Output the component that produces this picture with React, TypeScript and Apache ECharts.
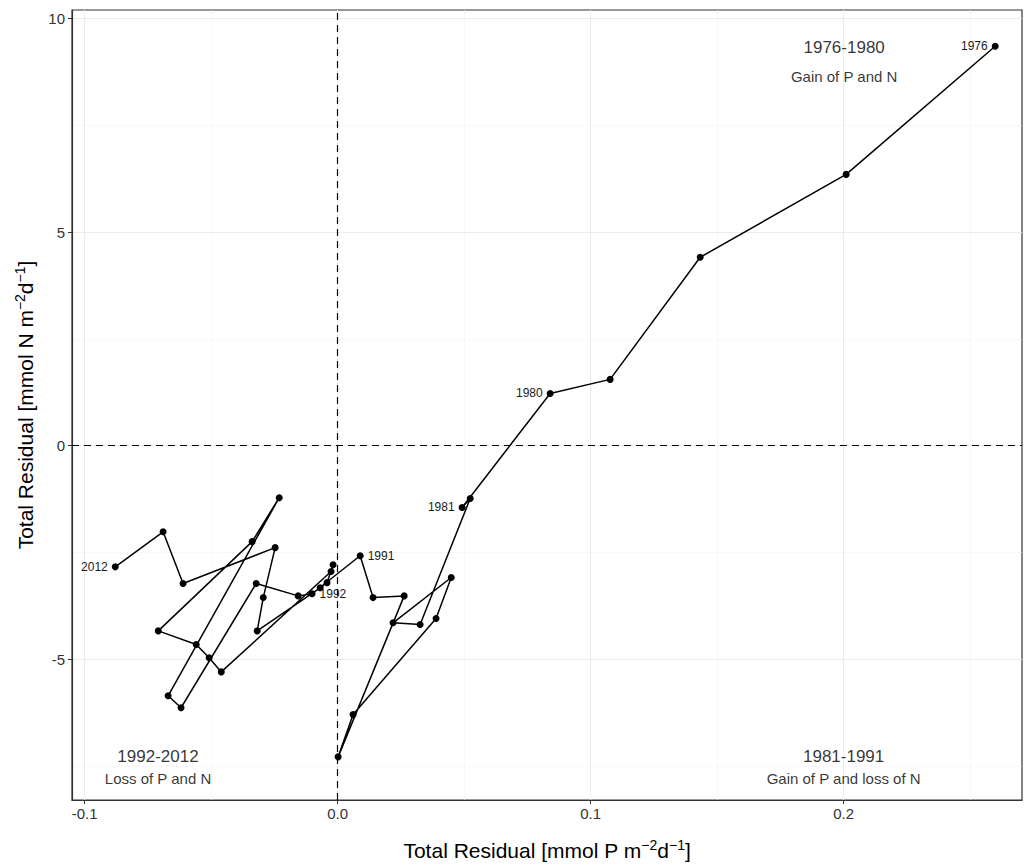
import React, { useEffect, useRef } from "react";
import * as echarts from "echarts";

const years = [
  1976, 1977, 1978, 1979, 1980, 1981, 1982, 1983, 1984, 1985, 1986, 1987, 1988, 1989, 1990, 1991,
  1992, 1993, 1994, 1995, 1996, 1997, 1998, 1999, 2000, 2001, 2002, 2003, 2004, 2005, 2006, 2007,
  2008, 2009, 2010, 2011, 2012,
];
const residualP = [
  0.2599, 0.201, 0.1433, 0.1077, 0.084, 0.0492, 0.0524, 0.0326, 0.0219, 0.0449, 0.0389, 0.0061,
  0.0002, 0.0263, 0.014, 0.0089, -0.0101, -0.0156, -0.0322, -0.0619, -0.067, -0.0231, -0.0338,
  -0.0709, -0.0559, -0.0508, -0.046, -0.0026, -0.0018, -0.0042, -0.0069, -0.0318, -0.0294,
  -0.0247, -0.0611, -0.069, -0.0879,
];
const residualN = [
  9.35, 6.35, 4.41, 1.55, 1.22, -1.45, -1.24, -4.19, -4.15, -3.09, -4.05, -6.3, -7.29, -3.52,
  -3.56, -2.58, -3.47, -3.52, -3.23, -6.14, -5.86, -1.22, -2.25, -4.34, -4.66, -4.97, -5.3,
  -2.95, -2.79, -3.21, -3.33, -4.34, -3.56, -2.39, -3.23, -2.02, -2.84,
];
const labelledYears = [1976, 1980, 1981, 1991, 1992, 2012];
const labelSides = ["left", "left", "left", "right", "right", "left"];

const xTicks = [-0.1, 0.0, 0.1, 0.2];
const xMinor = [-0.05, 0.05, 0.15, 0.25];
const yTicks = [-5, 0, 5, 10];
const yMinor = [-7.5, -2.5, 2.5, 7.5];

const annotTexts = [
  "1976-1980", "Gain of P and N",
  "1992-2012", "Loss of P and N",
  "1981-1991", "Gain of P and loss of N",
];
const annotX = [0.2002, 0.2002, -0.071, -0.071, 0.2, 0.2];
const annotY = [9.33, 8.65, -7.27, -7.79, -7.27, -7.79];
const annotSize = [17, 15, 17, 15, 17, 15];

const FONT = "'Liberation Sans', Arial, Helvetica, sans-serif";

export default function App() {
  const ref = useRef<HTMLDivElement>(null);
  useEffect(() => {
    if (!ref.current) return;
    const chart = echarts.init(ref.current, undefined, { renderer: "svg" });
    const data = years.map((yr, i) => {
      const li = labelledYears.indexOf(yr);
      const item: any = { value: [residualP[i], residualN[i]], name: String(yr) };
      if (li >= 0) {
        item.label = {
          show: true,
          position: labelSides[li],
          distance: 4,
          formatter: String(yr),
          fontSize: 12,
          color: "#1a1a1a",
          fontFamily: FONT,
        };
      }
      return item;
    });
    const gridLine = (v: number, axis: "xAxis" | "yAxis", major: boolean) => ({
      [axis]: v,
      lineStyle: { color: major ? "#EBEBEB" : "#F3F3F3", width: major ? 1 : 0.6, type: "solid" },
    });
    const supRich = {
      sup: { fontSize: 14, fontFamily: FONT, color: "#000", padding: [0, 0, 11, 0] },
    };
    chart.setOption({
      animation: false,
      backgroundColor: "#fff",
      textStyle: { fontFamily: FONT },
      grid: {
        left: 72,
        right: 7,
        top: 10,
        bottom: 66,
        show: true,
        borderColor: "#333",
        borderWidth: 1.2,
        containLabel: false,
      },
      xAxis: {
        type: "value",
        min: -0.105,
        max: 0.2705,
        splitLine: { show: false },
        axisLine: { show: true, onZero: false, lineStyle: { color: "#333", width: 1.2 } },
        axisTick: { show: true, length: 4, customValues: xTicks, lineStyle: { color: "#333" } },
        axisLabel: {
          customValues: xTicks,
          formatter: (v: number) => v.toFixed(1),
          fontSize: 15,
          color: "#333",
          margin: 6,
          fontFamily: FONT,
        },
        name: "Total Residual [mmol P m{sup|−2}d{sup|−1}]",
        nameLocation: "middle",
        nameGap: 38,
        nameTextStyle: { fontSize: 21, color: "#000", fontFamily: FONT, rich: supRich },
      },
      yAxis: {
        type: "value",
        min: -8.3,
        max: 10.2,
        splitLine: { show: false },
        axisLine: { show: true, onZero: false, lineStyle: { color: "#333", width: 1.2 } },
        axisTick: { show: true, length: 4, customValues: yTicks, lineStyle: { color: "#333" } },
        axisLabel: {
          customValues: yTicks,
          formatter: (v: number) => String(v),
          fontSize: 15,
          color: "#333",
          margin: 7,
          fontFamily: FONT,
        },
        name: "Total Residual [mmol N m{sup|−2}d{sup|−1}]",
        nameLocation: "middle",
        nameGap: 34,
        nameTextStyle: { fontSize: 21, color: "#000", fontFamily: FONT, rich: supRich },
      },
      series: [
        {
          type: "line",
          data: [],
          z: 0,
          silent: true,
          markLine: {
            z: 0,
            silent: true,
            symbol: "none",
            label: { show: false },
            animation: false,
            data: [
              ...xMinor.map((v) => gridLine(v, "xAxis", false)),
              ...yMinor.map((v) => gridLine(v, "yAxis", false)),
              ...xTicks.map((v) => gridLine(v, "xAxis", true)),
              ...yTicks.map((v) => gridLine(v, "yAxis", true)),
            ],
          },
        },
        {
          type: "line",
          data: [],
          z: 1,
          silent: true,
          markLine: {
            z: 1,
            silent: true,
            symbol: "none",
            label: { show: false },
            animation: false,
            lineStyle: { color: "#000", width: 1.2, type: [7, 5] },
            data: [{ xAxis: 0 }, { yAxis: 0 }],
          },
        },
        {
          type: "line",
          z: 3,
          data,
          symbol: "circle",
          symbolSize: 7,
          showSymbol: true,
          itemStyle: { color: "#000" },
          lineStyle: { color: "#000", width: 1.5 },
          label: { show: false },
          labelLayout: { hideOverlap: false },
        },
        {
          type: "scatter",
          z: 4,
          symbolSize: 0,
          silent: true,
          data: annotTexts.map((t, i) => ({
            value: [annotX[i], annotY[i]],
            name: t,
            label: {
              show: true,
              position: "inside",
              formatter: t,
              fontSize: annotSize[i],
              color: "#000",
              fontFamily: FONT,
            },
          })),
        },
      ],
    });
    return () => chart.dispose();
  }, []);
  return (
    <div
      ref={ref}
      style={{ position: "fixed", left: 0, top: 0, width: 1029, height: 866, background: "#fff" }}
    />
  );
}
